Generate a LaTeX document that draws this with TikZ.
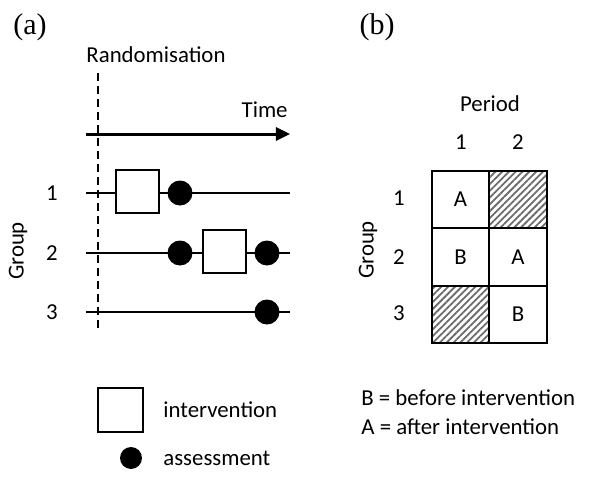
\documentclass[tikz,border=0pt]{standalone}
\usepackage{fontspec}
\setmainfont{Carlito}
\newfontfamily\panelfont{Liberation Serif}
\usepackage{tikz}
\usetikzlibrary{arrows.meta, positioning, patterns.meta}

\begin{document}
\begin{tikzpicture}[
    x=0.5pt, y=-0.5pt,
    % Node styles
    txt/.style={font=\fontsize{11.4}{13}\selectfont, inner sep=0pt},
    panel/.style={font=\panelfont\fontsize{15}{17}\selectfont, inner sep=0pt},
    ivbox/.style={rectangle, draw=black, line width=1pt, fill=white, minimum width=21.5pt, minimum height=21.5pt, inner sep=0pt},
    dot/.style={circle, fill=black, minimum size=12.5pt, inner sep=0pt},
    cell/.style={rectangle, draw=black, line width=1pt, minimum size=28.75pt, inner sep=0pt, font=\fontsize{11.4}{13}\selectfont},
    hatched/.style={cell, pattern={Lines[angle=45, distance=2.4pt, line width=0.9pt]}, pattern color=gray!85!black},
    grpline/.style={line width=0.75pt},
    arrow/.style={-{Triangle[length=7pt, width=6.5pt]}, line width=1.5pt}
]
\useasboundingbox (0,0) rectangle (591,477);

% Panel labels
\node[panel] (pa) at (30,27) {(a)};
\node[panel] (pb) at (377,27) {(b)};

% (a) Randomisation and time axis
\node[txt] (rand) at (156,55) {Randomisation};
\coordinate (rtop) at (98,73);
\coordinate (rbot) at (98,330);
\draw[line width=1pt, dash pattern=on 4pt off 2.5pt] (rtop) -- (rbot);

\coordinate (tstart) at (86,134);
\coordinate (tend) at (290,134);
\draw[arrow] (tstart) -- (tend);
\node[txt, anchor=east] (time) at (288,110) {Time};

% (a) Group lines
\node[txt] (ga) at (18,251) [rotate=90] {Group};
\node[txt] (ga1) at (52,193) {1};
\node[txt] (ga2) at (52,253) {2};
\node[txt] (ga3) at (52,312) {3};

\coordinate (l1s) at (86,193);
\coordinate (l1e) at (290,193);
\coordinate (l2s) at (86,253);
\coordinate (l2e) at (290,253);
\coordinate (l3s) at (86,312);
\coordinate (l3e) at (290,312);
\draw[grpline] (l1s) -- (l1e);
\draw[grpline] (l2s) -- (l2e);
\draw[grpline] (l3s) -- (l3e);

\node[ivbox] (iv1) at (137.5,191.5) {};
\node[dot] (as1) at (180,193) {};
\node[dot] (as2a) at (180,253) {};
\node[ivbox] (iv2) at (225,251.5) {};
\node[dot] (as2b) at (267,253) {};
\node[dot] (as3) at (267,312) {};

% (a) Legend
\node[ivbox, minimum width=22.5pt, minimum height=22pt] (legbox) at (120.5,410) {};
\node[txt, anchor=west] (legboxtxt) at (163,410) {intervention};
\node[dot, minimum size=11pt] (legdot) at (131,458) {};
\node[txt, anchor=west] (legdottxt) at (163,458) {assessment};

% (b) Crossover table
\node[txt] (period) at (490,104) {Period};
\node[txt] (p1) at (461,142) {1};
\node[txt] (p2) at (518,142) {2};

\node[txt] (gb) at (368,250) [rotate=90] {Group};
\node[txt] (gb1) at (399,198) {1};
\node[txt] (gb2) at (399,257) {2};
\node[txt] (gb3) at (399,313) {3};

\node[cell] (c11) at (460.5,199.5) {A};
\node[hatched] (c12) at (518,199.5) {};
\node[cell] (c21) at (460.5,257) {B};
\node[cell] (c22) at (518,257) {A};
\node[hatched] (c31) at (460.5,314.5) {};
\node[cell] (c32) at (518,314.5) {B};

% (b) Key
\node[txt, anchor=west] (keyb) at (361,398) {B = before intervention};
\node[txt, anchor=west] (keya) at (361,427) {A = after intervention};

\end{tikzpicture}
\end{document}
